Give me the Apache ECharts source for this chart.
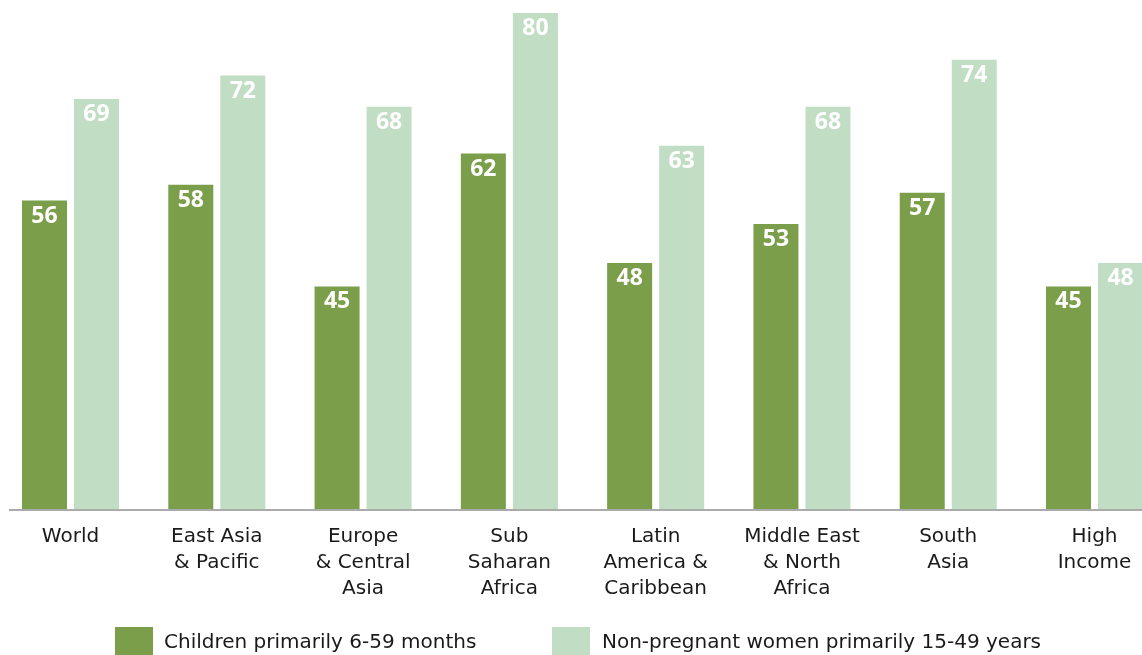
<!DOCTYPE html>
<html>
<head>
<meta charset="utf-8">
<script src="https://cdn.jsdelivr.net/npm/echarts@6/dist/echarts.min.js"></script>
<style>
html,body{margin:0;padding:0;background:#fff;}
#chart{width:1142px;height:655px;}
</style>
</head>
<body>
<div id="chart"></div>
<script>
const categories = ['World', 'East Asia\n& Pacific', 'Europe\n& Central\nAsia', 'Sub\nSaharan\nAfrica', 'Latin\nAmerica &\nCaribbean', 'Middle East\n& North\nAfrica', 'South\nAsia', 'High\nIncome'];
const seriesNames = ['Children primarily 6-59 months', 'Non-pregnant women primarily 15-49 years'];
const children = [56, 58, 45, 62, 48, 53, 57, 45];
const women = [69, 72, 68, 80, 63, 68, 74, 48];

const FONT = '"Open Sans", "Noto Sans", sans-serif';
const TFONT = '"DejaVu Sans", "Open Sans", sans-serif';
const DARK = '#7b9e4b';
const LIGHT = '#c1ddc4';

const chart = echarts.init(document.getElementById('chart'), null, {renderer: 'canvas'});
const labelStyle = {
  show: true, position: 'insideTop', distance: 4,
  color: '#ffffff', fontFamily: FONT, fontWeight: 'bold', fontSize: 23
};
const legendText = {
  fontFamily: TFONT, fontSize: 20, color: '#1a1a1a',
  rich: {a: {fontFamily: TFONT, fontSize: 20, color: '#1a1a1a', padding: [0, 0, 7, 0]}}
};
chart.setOption({
  animation: false,
  backgroundColor: '#ffffff',
  grid: {left: -2.64, width: 1170.3, top: 13, height: 496, containLabel: false, outerBoundsMode: 'none'},
  legend: [
    {data: [seriesNames[0]], left: 110, top: 622, itemWidth: 38, itemHeight: 38,
     icon: 'rect', formatter: '{a|{name}}', textStyle: Object.assign({padding: [0, 0, 0, 6]}, legendText)},
    {data: [seriesNames[1]], left: 547, top: 622, itemWidth: 38, itemHeight: 38,
     icon: 'rect', formatter: '{a|{name}}', textStyle: Object.assign({padding: [0, 0, 0, 7]}, legendText)}
  ],
  xAxis: {
    type: 'category', data: categories,
    axisLine: {show: false}, axisTick: {show: false},
    axisLabel: {interval: 0, margin: 15, fontFamily: TFONT, fontSize: 20, lineHeight: 26, color: '#1a1a1a', align: 'center'}
  },
  yAxis: {
    type: 'value', min: 16.5, max: 80,
    show: false, splitLine: {show: false}
  },
  graphic: [{
    type: 'line', shape: {x1: 9, y1: 510, x2: 1142, y2: 510},
    style: {stroke: '#ababab', lineWidth: 2}, z: 10
  }],
  series: [
    {name: seriesNames[0], type: 'bar', data: children, barWidth: 45, barGap: '15.6%',
     itemStyle: {color: DARK}, label: labelStyle},
    {name: seriesNames[1], type: 'bar', data: women, barWidth: 45, barGap: '15.6%',
     itemStyle: {color: LIGHT}, label: labelStyle}
  ]
});
</script>
</body>
</html>
